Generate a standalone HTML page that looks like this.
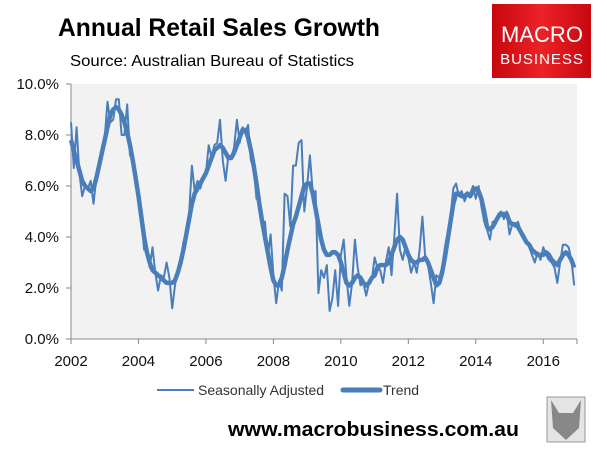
<!DOCTYPE html>
<html><head><meta charset="utf-8"><style>
body{margin:0;width:607px;height:452px;background:#fff;overflow:hidden;font-family:"Liberation Sans",Arial,sans-serif}
svg{display:block}
</style></head><body>
<svg id="chart" width="607" height="452">
<text x="58" y="36" font-size="25" font-weight="bold" fill="#000" textLength="322" lengthAdjust="spacingAndGlyphs">Annual Retail Sales Growth</text>
<text x="70" y="66" font-size="16" fill="#000" textLength="284" lengthAdjust="spacingAndGlyphs">Source: Australian Bureau of Statistics</text>
<g>
<defs><linearGradient id="lg" x1="0" x2="1"><stop offset="0" stop-color="#c8070f"/><stop offset="0.5" stop-color="#ec2227"/><stop offset="1" stop-color="#c8070f"/></linearGradient></defs>
<rect x="492" y="4" width="99" height="74" fill="url(#lg)"/>
<text x="542" y="42" font-size="22" fill="#fff" text-anchor="middle">MACRO</text>
<text x="542" y="64" font-size="15" fill="#fff" text-anchor="middle" letter-spacing="1">BUSINESS</text>
</g>
<rect x="71" y="84" width="506" height="255" fill="#f2f2f2"/>
<g id="axes"></g>
<g id="series"></g>
<g>
<line x1="157" y1="390" x2="194" y2="390" stroke="#4a7ebb" stroke-width="2"/>
<text x="198" y="395" font-size="14" fill="#333">Seasonally Adjusted</text>
<line x1="343" y1="390" x2="380" y2="390" stroke="#4a7ebb" stroke-width="5" stroke-linecap="round"/>
<text x="383" y="395" font-size="14" fill="#333">Trend</text>
</g>
<text x="228" y="436" font-size="20" font-weight="bold" fill="#000" textLength="291" lengthAdjust="spacingAndGlyphs">www.macrobusiness.com.au</text>
<g>
<rect x="547" y="397" width="38" height="45" fill="#e4e4e4" stroke="#999"/>
<polygon points="551,400 559,413 573,413 581,400 579,428 566,440 553,428" fill="#888"/>
</g>
</svg>
<script>
const years=[2002,2004,2006,2008,2010,2012,2014,2016];
const yTicks=[0,2,4,6,8,10];
const trend=[7.8,7.4,7.0,6.6,6.2,6.0,5.9,5.8,5.9,6.3,6.8,7.3,
7.8,8.3,8.8,9.0,9.1,9.0,8.8,8.5,8.1,7.6,7.0,6.3,
5.6,4.8,4.0,3.4,3.0,2.7,2.6,2.5,2.4,2.3,2.2,2.2,
2.2,2.3,2.6,3.0,3.5,4.1,4.7,5.3,5.7,5.9,6.1,6.3,
6.5,6.8,7.1,7.4,7.5,7.6,7.5,7.3,7.1,7.1,7.3,7.6,
7.9,8.2,8.2,7.9,7.4,6.8,6.1,5.3,4.6,4.0,3.4,2.8,
2.3,2.1,2.1,2.4,2.9,3.5,4.0,4.5,4.8,5.2,5.6,6.0,
6.1,6.1,5.7,5.1,4.5,3.9,3.5,3.3,3.3,3.4,3.4,3.3,
3.0,2.6,2.2,2.1,2.2,2.4,2.5,2.4,2.2,2.1,2.2,2.4,
2.5,2.8,2.9,2.9,2.9,3.0,3.3,3.6,3.9,4.0,3.9,3.6,
3.3,3.1,3.0,3.0,3.1,3.1,3.2,3.0,2.7,2.4,2.1,2.2,
2.6,3.2,3.9,4.6,5.3,5.7,5.7,5.6,5.6,5.7,5.6,5.8,
5.9,5.8,5.5,5.0,4.4,4.3,4.4,4.6,4.8,4.9,4.9,4.9,
4.6,4.5,4.5,4.4,4.2,4.0,3.8,3.7,3.5,3.4,3.3,3.3,
3.3,3.4,3.3,3.1,3.0,2.9,3.1,3.3,3.4,3.3,3.1,2.8];
const seasAdj=[8.5,6.7,8.3,6.5,5.6,6.0,5.9,6.2,5.3,6.3,6.8,7.5,
7.9,9.3,8.5,8.6,9.4,9.4,8.0,8.0,9.2,7.2,7.1,6.0,
5.5,4.7,3.5,3.6,2.8,3.6,2.6,1.9,2.5,2.4,3.0,2.4,
1.2,2.1,2.7,3.0,3.8,4.1,4.9,6.8,5.8,6.2,5.9,6.3,
6.5,7.6,7.1,7.6,7.7,8.6,7.0,6.2,7.2,7.1,7.5,8.6,
7.7,8.3,8.1,8.4,7.0,6.7,5.5,5.6,4.5,4.6,3.2,4.1,
2.5,1.4,2.3,1.9,5.7,5.6,4.4,6.8,6.8,7.7,7.8,5.0,
6.0,7.2,5.7,5.8,1.8,2.7,2.4,2.9,1.1,1.6,2.7,1.3,
3.3,3.9,2.4,1.3,2.2,3.9,2.8,2.1,2.2,1.7,2.2,2.3,
3.2,2.8,2.7,2.2,3.0,3.6,2.5,4.0,5.7,3.5,3.1,3.6,
3.2,2.6,3.0,2.6,3.5,4.8,3.2,2.9,2.2,1.4,2.5,2.4,
2.8,3.6,4.2,4.8,5.9,6.1,5.6,5.8,5.4,5.7,5.7,6.0,
5.5,6.0,5.2,4.6,4.3,3.9,4.6,4.5,4.9,5.0,4.7,5.0,
4.1,4.5,4.4,4.6,4.2,4.0,3.9,3.6,3.3,3.0,3.4,3.1,
3.6,3.3,3.1,3.0,2.8,2.2,3.0,3.7,3.7,3.6,3.1,2.1];
const NS="http://www.w3.org/2000/svg";
const X0=71,X1=577,Y0=339,Y1=84;
const xS=t=>X0+(t-2002)/15*(X1-X0);
const yS=v=>Y0-v/10*(Y0-Y1);
function mk(tag,attrs,parent){const e=document.createElementNS(NS,tag);for(const k in attrs)e.setAttribute(k,attrs[k]);parent.appendChild(e);return e;}
const ax=document.getElementById('axes');
let l=mk('line',{x1:X0,y1:Y1,x2:X0,y2:Y0,stroke:'#888'},ax);


l=mk('line',{x1:X0,y1:Y0,x2:X1,y2:Y0,stroke:'#888'},ax);


yTicks.forEach(v=>{
 mk('line',{x1:X0-5,x2:X0,y1:yS(v),y2:yS(v),stroke:'#888'},ax);
 const t=mk('text',{x:X0-12,y:yS(v)+5,'font-size':15,'text-anchor':'end',fill:'#111'},ax);
 t.textContent=v.toFixed(1)+'%';
 
 
});
years.forEach(y=>{
 mk('line',{x1:xS(y),x2:xS(y),y1:Y0,y2:Y0+5,stroke:'#888'},ax);
 const t=mk('text',{x:xS(y),y:Y0+27,'font-size':15,'text-anchor':'middle',fill:'#111'},ax);
 t.textContent=y;
 
 
});
mk('line',{x1:X1,x2:X1,y1:Y0,y2:Y0+5,stroke:'#888'},ax);
const sg=document.getElementById('series');
function path(arr,w,name){
 const d=arr.map((v,i)=>(i?'L':'M')+xS(2002+i/12).toFixed(1)+','+yS(v).toFixed(1)).join('');
 const p=mk('path',{d:d,fill:'none',stroke:'#4a7ebb','stroke-width':w,'stroke-linejoin':'round'},sg);
 
 
}
path(seasAdj,2,'seasonally-adjusted-line');
path(trend,4.5,'trend-line');
</script>
</body></html>
